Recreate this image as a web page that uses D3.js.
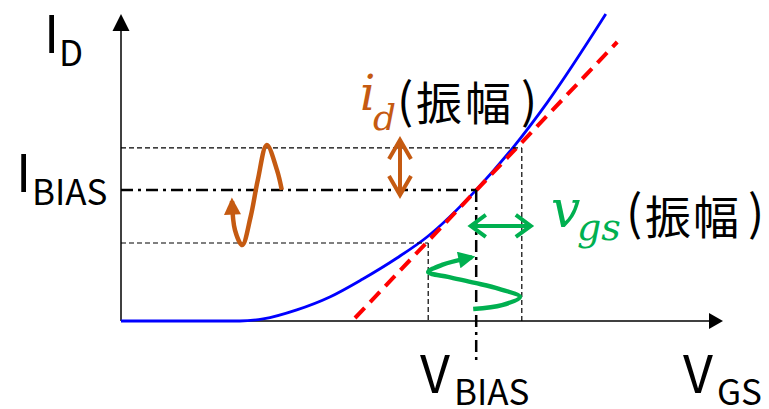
<!DOCTYPE html>
<html>
<head>
<meta charset="utf-8">
<script src="https://cdn.jsdelivr.net/npm/d3@7"></script>
<style>
  body { margin: 0; background: #fff; }
  svg { display: block; }
  text { font-family: "Noto Sans CJK JP", "Noto Sans", sans-serif; }
  .math { font-family: "DejaVu Serif", "Liberation Serif", serif; font-style: italic; }
</style>
</head>
<body>
<svg id="chart"></svg>
<script>
// transfer curve (V_GS, I_D) in arbitrary units
const curveV = [0, 19.8, 23.7, 29.3, 34.8, 40.3, 46.0, 51.0, 59.2, 65.3, 71.0, 80.8];
const curveI = [0, 0, 0.7, 3.7, 8.0, 14.0, 21.0, 28.0, 43.7, 57.7, 72.7, 102.3];

// tangent at the bias point
const tangentV = [39.0, 82.7];
const tangentI = [1.0, 93.0];

// bias point and swing limits
const biasV = 59.2, biasI = 43.7;
const swingV = [51.2, 66.8];
const swingI = [26.0, 57.7];

// small sine sketches (output current and input voltage)
const idWaveV = [26.8, 26.0, 24.3, 22.8, 21.6, 20.2, 19.0, 18.5];
const idWaveI = [43.7, 50.3, 58.7, 47.0, 34.7, 25.3, 30.3, 40.0];
const vgsWaveV = [58.7, 63.5, 66.5, 63.0, 59.0, 54.5, 51.2, 53.5, 58.5];
const vgsWaveI = [4.0, 5.3, 8.0, 10.7, 12.7, 14.7, 16.3, 18.7, 21.3];

// amplitude arrows
const idArrowV = 46.5, idArrowI = [42.0, 60.3];
const vgsArrowI = 31.7, vgsArrowV = [58.3, 68.3];

const width = 769, height = 409;
const orange = "#C55A11", green = "#00B050";

const x = d3.scaleLinear().domain([0, 100]).range([121, 721]);
const y = d3.scaleLinear().domain([0, 100]).range([321, 21]);

const svg = d3.select("#chart").attr("width", width).attr("height", height);

const defs = svg.append("defs");
function head(id, color) {
  defs.append("marker")
    .attr("id", id)
    .attr("viewBox", "0 0 10 10")
    .attr("refX", 8).attr("refY", 5)
    .attr("markerWidth", 18).attr("markerHeight", 17)
    .attr("markerUnits", "userSpaceOnUse")
    .attr("orient", "auto")
    .append("path").attr("d", "M0,0L10,5L0,10Z").attr("fill", color);
}
head("headOrange", orange);
head("headGreen", green);

const line = d3.line().x(d => x(d[0])).y(d => y(d[1]));

// axes
const x0 = x(0), y0 = y(0);
svg.append("line").attr("x1", x0).attr("y1", y0).attr("x2", 709).attr("y2", y0)
  .attr("stroke", "#000").attr("stroke-width", 1.5);
svg.append("path").attr("d", `M709,${y0 - 8}L723,${y0}L709,${y0 + 8}Z`).attr("fill", "#000");
svg.append("line").attr("x1", x0).attr("y1", y0).attr("x2", x0).attr("y2", 30)
  .attr("stroke", "#000").attr("stroke-width", 1.5);
svg.append("path").attr("d", `M${x0 - 8.5},31L${x0},14L${x0 + 8.5},31Z`).attr("fill", "#000");

// curve and tangent
svg.append("path")
  .datum(curveV.map((v, i) => [v, curveI[i]]))
  .attr("d", line.curve(d3.curveMonotoneX))
  .attr("fill", "none").attr("stroke", "#0000FF").attr("stroke-width", 2.8);
svg.append("path")
  .datum(tangentV.map((v, i) => [v, tangentI[i]]))
  .attr("d", d3.line().x(d => x(d[0])).y(d => y(d[1])))
  .attr("fill", "none").attr("stroke", "#FF0000").attr("stroke-width", 4)
  .attr("stroke-dasharray", "14,8");

// guide lines
const thin = { stroke: "#000", w: 1.2, dash: "5,3" };
const guides = [
  { x1: 0, y1: swingI[1], x2: swingV[1], y2: swingI[1], s: thin },
  { x1: 0, y1: swingI[0], x2: swingV[0], y2: swingI[0], s: thin },
  { x1: swingV[0], y1: swingI[0], x2: swingV[0], y2: 0, s: thin },
  { x1: swingV[1], y1: swingI[1], x2: swingV[1], y2: 0, s: thin }
];
svg.selectAll("line.guide").data(guides).enter().append("line")
  .attr("class", "guide")
  .attr("x1", d => x(d.x1)).attr("y1", d => y(d.y1))
  .attr("x2", d => x(d.x2)).attr("y2", d => y(d.y2))
  .attr("stroke", d => d.s.stroke).attr("stroke-width", d => d.s.w)
  .attr("stroke-dasharray", d => d.s.dash);

// bias lines (dash-dot)
svg.append("path")
  .attr("d", `M${x(0)},${y(biasI)}H${x(biasV)}`)
  .attr("stroke", "#000").attr("stroke-width", 2.5).attr("fill", "none")
  .attr("stroke-dasharray", "12,5,3,5");
svg.append("path")
  .attr("d", `M${x(biasV)},${y(biasI)}V362`)
  .attr("stroke", "#000").attr("stroke-width", 2.5).attr("fill", "none")
  .attr("stroke-dasharray", "12,5,3,5");

// sine sketches
svg.append("path")
  .datum(idWaveV.map((v, i) => [v, idWaveI[i]]))
  .attr("d", d3.line().x(d => x(d[0])).y(d => y(d[1])).curve(d3.curveCatmullRom))
  .attr("fill", "none").attr("stroke", orange).attr("stroke-width", 4.5)
  .attr("marker-end", "url(#headOrange)");
svg.append("path")
  .datum(vgsWaveV.map((v, i) => [v, vgsWaveI[i]]))
  .attr("d", d3.line().x(d => x(d[0])).y(d => y(d[1])).curve(d3.curveCatmullRom))
  .attr("fill", "none").attr("stroke", green).attr("stroke-width", 4.5)
  .attr("marker-end", "url(#headGreen)");

// amplitude arrows with open heads
const ax = x(idArrowV), aTop = y(idArrowI[1]), aBot = y(idArrowI[0]);
svg.append("path")
  .attr("d", `M${ax},${aTop}V${aBot}M${ax - 11},${aTop + 19}L${ax},${aTop}L${ax + 11},${aTop + 19}` +
    `M${ax - 11},${aBot - 19}L${ax},${aBot}L${ax + 11},${aBot - 19}`)
  .attr("fill", "none").attr("stroke", orange).attr("stroke-width", 4);
const gy = y(vgsArrowI), gL = x(vgsArrowV[0]), gR = x(vgsArrowV[1]);
svg.append("path")
  .attr("d", `M${gL},${gy}H${gR}M${gL + 15},${gy - 11}L${gL},${gy}L${gL + 15},${gy + 11}` +
    `M${gR - 15},${gy - 11}L${gR},${gy}L${gR - 15},${gy + 11}`)
  .attr("fill", "none").attr("stroke", green).attr("stroke-width", 4);

// labels
function label(parts) {
  parts.forEach(p => {
    svg.append("text")
      .attr("x", p.x).attr("y", p.y)
      .attr("class", p.cls || null)
      .attr("font-size", p.size)
      .attr("letter-spacing", p.ls || null)
      .attr("fill", p.color || "#000")
      .text(p.t);
  });
}
label([
  { t: "I", x: 44, y: 53, size: 52 },
  { t: "D", x: 59, y: 66, size: 35 },
  { t: "I", x: 16, y: 192, size: 52 },
  { t: "BIAS", x: 32, y: 205, size: 35 },
  { t: "V", x: 420, y: 393, size: 52 },
  { t: "BIAS", x: 454, y: 405, size: 35 },
  { t: "V", x: 683, y: 393, size: 52 },
  { t: "GS", x: 717, y: 405, size: 35 },
  { t: "i", x: 360, y: 110, size: 48, color: orange, cls: "math" },
  { t: "d", x: 373, y: 130, size: 36, color: orange, cls: "math" },
  { t: "(", x: 397, y: 118, size: 48 },
  { t: "振幅", x: 416, y: 120, size: 46, ls: 3 },
  { t: ")", x: 521, y: 118, size: 48 },
  { t: "v", x: 551, y: 227, size: 52, color: green, cls: "math" },
  { t: "gs", x: 577, y: 240, size: 38, color: green, cls: "math" },
  { t: "(", x: 626, y: 230, size: 48 },
  { t: "振幅", x: 645, y: 234, size: 46, ls: 2 },
  { t: ")", x: 748, y: 230, size: 48 }
]);
</script>
</body>
</html>
